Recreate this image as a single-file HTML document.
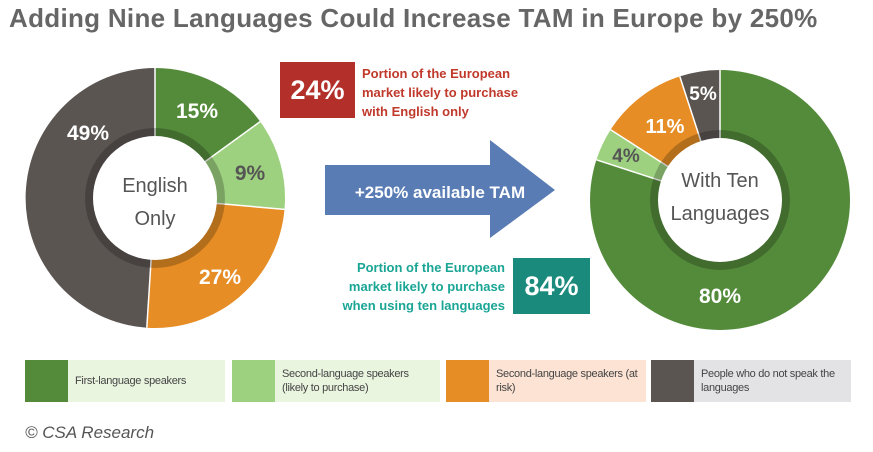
<!DOCTYPE html><html><head><style>
body{margin:0;width:873px;height:452px;background:#fff;font-family:"Liberation Sans",sans-serif;position:relative;overflow:hidden}
.a{position:absolute}
.lg{position:absolute;top:360px;height:42px;font-size:11px;color:#444;line-height:14px}
.lg .sq{position:absolute;left:0;top:0;width:43px;height:42px}
.lg .t{position:absolute;left:50px;top:0;height:42px;display:flex;align-items:center;letter-spacing:-0.3px}
</style></head><body>
<div class="a" style="left:9px;top:3px;font-size:26px;font-weight:bold;color:#666;letter-spacing:0.3px;white-space:nowrap">Adding Nine Languages Could Increase TAM in Europe by 250%</div>
<svg class="a" style="left:0;top:0" width="873" height="452">
<g id="L" transform="translate(155,198)">
<path d="M0,-130 A130,130 0 0 1 105.2,-76.4 L0,0Z" fill="#548b3b"/>
<path d="M105.2,-76.4 A130,130 0 0 1 129.5,11.4 L0,0Z" fill="#9dd17f"/>
<path d="M129.5,11.4 A130,130 0 0 1 -8.2,129.7 L0,0Z" fill="#e68d25"/>
<path d="M-8.2,129.7 A130,130 0 0 1 0,-130 L0,0Z" fill="#5b5552"/>
<g stroke="#fff" stroke-width="1.5"><line x1="0" y1="0" x2="0" y2="-130"/><line x1="0" y1="0" x2="105.2" y2="-76.4"/><line x1="0" y1="0" x2="129.5" y2="11.4"/><line x1="0" y1="0" x2="-8.2" y2="129.7"/></g>
<circle r="70" fill="#000" opacity="0.22"/><circle r="62" fill="#fff"/>
</g>
<g transform="translate(720,200)">
<path d="M0,-130 A130,130 0 1 1 -123.6,-40.2 L0,0Z" fill="#548b3b"/>
<path d="M-123.6,-40.2 A130,130 0 0 1 -109.4,-70.3 L0,0Z" fill="#9dd17f"/>
<path d="M-109.4,-70.3 A130,130 0 0 1 -40.2,-123.6 L0,0Z" fill="#e68d25"/>
<path d="M-40.2,-123.6 A130,130 0 0 1 0,-130 L0,0Z" fill="#5b5552"/>
<g stroke="#fff" stroke-width="1.5"><line x1="0" y1="0" x2="0" y2="-130"/><line x1="0" y1="0" x2="-123.6" y2="-40.2"/><line x1="0" y1="0" x2="-109.4" y2="-70.3"/><line x1="0" y1="0" x2="-40.2" y2="-123.6"/></g>
<circle r="70" fill="#000" opacity="0.22"/><circle r="62" fill="#fff"/>
</g>
<polygon points="325,165 490,165 490,140 555,190 490,238 490,215 325,215" fill="#5a7cb5"/>
<g font-family="Liberation Sans,sans-serif" font-weight="bold" text-anchor="middle">
<text x="197" y="118" font-size="21" fill="#fff">15%</text>
<text x="250" y="180" font-size="21" fill="#555">9%</text>
<text x="220" y="284" font-size="21" fill="#fff">27%</text>
<text x="88" y="140" font-size="21" fill="#fff">49%</text>
<text x="155" y="192" font-size="20" fill="#555" font-weight="normal">English</text>
<text x="155" y="225" font-size="20" fill="#555" font-weight="normal">Only</text>
<text x="720" y="187" font-size="20" fill="#555" font-weight="normal">With Ten</text>
<text x="720" y="220" font-size="20" fill="#555" font-weight="normal">Languages</text>
<text x="720" y="303" font-size="21" fill="#fff">80%</text>
<text x="626" y="162" font-size="19" fill="#555">4%</text>
<text x="665" y="133" font-size="20" fill="#fff">11%</text>
<text x="703" y="100" font-size="19" fill="#fff">5%</text>
<text x="440" y="198" font-size="17" fill="#fff">+250% available TAM</text>
</g>
</svg>
<div class="a" style="left:280px;top:62px;width:75px;height:56px;background:#b3302a;color:#fff;font-weight:bold;font-size:27px;display:flex;align-items:center;justify-content:center">24%</div>
<div class="a" style="left:362px;top:64px;font-size:13px;font-weight:bold;color:#c0392b;line-height:19px">Portion of the European<br>market likely to purchase<br>with English only</div>
<div class="a" style="left:513px;top:258px;width:77px;height:56px;background:#1a8a7c;color:#fff;font-weight:bold;font-size:27px;display:flex;align-items:center;justify-content:center">84%</div>
<div class="a" style="left:300px;top:258px;width:205px;text-align:right;font-size:13px;font-weight:bold;color:#1aa595;line-height:19px">Portion of the European<br>market likely to purchase<br>when using ten languages</div>
<div class="lg" style="left:25px;width:200px;background:#eaf5e0"><div class="sq" style="background:#548b3b"></div><div class="t">First-language speakers</div></div>
<div class="lg" style="left:232px;width:208px;background:#eaf5e0"><div class="sq" style="background:#9dd17f"></div><div class="t">Second-language speakers<br>(likely to purchase)</div></div>
<div class="lg" style="left:446px;width:200px;background:#fce3d4"><div class="sq" style="background:#e68d25"></div><div class="t">Second-language speakers (at<br>risk)</div></div>
<div class="lg" style="left:651px;width:200px;background:#e3e3e5"><div class="sq" style="background:#5b5552"></div><div class="t">People who do not speak the<br>languages</div></div>
<div class="a" style="left:25px;top:423px;font-size:17px;font-style:italic;color:#555">© CSA Research</div>
</body></html>
